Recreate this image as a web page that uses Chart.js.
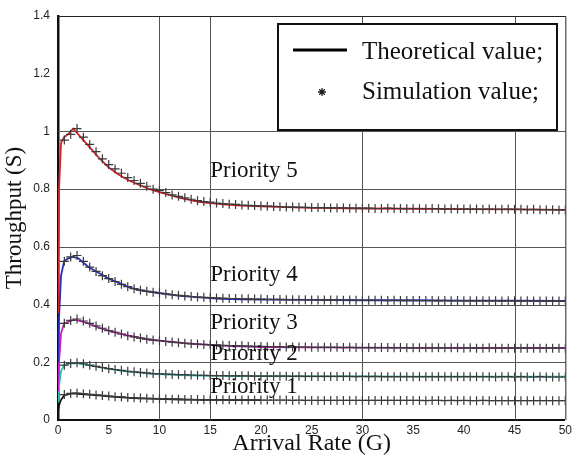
<!DOCTYPE html>
<html>
<head>
<meta charset="utf-8">
<script src="https://cdn.jsdelivr.net/npm/chart.js@4"></script>
<style>
html,body{margin:0;padding:0;background:#fff;}
#wrap{width:575px;height:467px;position:relative;}
</style>
</head>
<body>
<div id="wrap"><canvas id="c" width="575" height="467"></canvas></div>
<script>
// Theoretical curves (x positions and values)
const thX = [0,0.1,0.3,0.6,1,1.5,2,3,4,5,6,7,8,9,10,12,14,16,18,20,25,30,35,40,45,50];
const thP5 = [0.37,0.80,0.96,0.98,0.99,1.01,0.99,0.95,0.91,0.875,0.85,0.83,0.815,0.80,0.79,0.77,0.755,0.748,0.743,0.74,0.735,0.733,0.732,0.731,0.73,0.728];
const thP4 = [0.20,0.35,0.50,0.55,0.56,0.565,0.56,0.53,0.51,0.49,0.475,0.46,0.45,0.445,0.44,0.43,0.425,0.42,0.418,0.417,0.416,0.415,0.415,0.414,0.414,0.413];
const thP3 = [0.10,0.20,0.30,0.335,0.34,0.347,0.345,0.335,0.32,0.31,0.30,0.292,0.285,0.279,0.275,0.268,0.262,0.258,0.255,0.253,0.252,0.251,0.25,0.25,0.25,0.25];
const thP2 = [0.06,0.12,0.17,0.19,0.195,0.197,0.196,0.19,0.183,0.177,0.172,0.168,0.164,0.161,0.159,0.156,0.154,0.153,0.152,0.152,0.151,0.151,0.15,0.15,0.15,0.15];
const thP1 = [0.03,0.05,0.07,0.085,0.09,0.092,0.091,0.088,0.085,0.082,0.079,0.077,0.075,0.074,0.073,0.071,0.07,0.07,0.069,0.069];

// Simulation points
const simX = [0.625,1.25,1.875,2.5,3.125,3.75,4.375,5,5.625,6.25,6.875,7.5,8.125,8.75,9.375,10,
10.625,11.25,11.875,12.5,13.125,13.75,14.375,15,15.625,16.25,16.875,17.5,18.125,18.75,19.375,20,
20.625,21.25,21.875,22.5,23.125,23.75,24.375,25,25.625,26.25,26.875,27.5,28.125,28.75,29.375,30,
30.625,31.25,31.875,32.5,33.125,33.75,34.375,35,35.625,36.25,36.875,37.5,38.125,38.75,39.375,40,
40.625,41.25,41.875,42.5,43.125,43.75,44.375,45,45.625,46.25,46.875,47.5,48.125,48.75,49.375,50];
const simP5 = [0.97,0.99,1.01,0.98,0.955,0.93,0.905,0.885,0.87,0.855,0.84,0.83,0.82,0.81,0.80,0.795,
0.788,0.78,0.775,0.77,0.765,0.76,0.757,0.755,0.752,0.75,0.748,0.747,0.745,0.744,0.743,0.742,
0.741,0.740,0.739,0.738,0.738,0.737,0.737,0.736,0.736,0.736,0.735,0.735,0.735,0.734,0.734,0.734,
0.734,0.733,0.733,0.734,0.733,0.733,0.732,0.733,0.732,0.732,0.733,0.732,0.731,0.732,0.731,0.731,
0.731,0.731,0.730,0.731,0.730,0.730,0.731,0.730,0.730,0.729,0.730,0.729,0.729,0.729,0.728,0.728];
const simP4 = [0.55,0.565,0.57,0.55,0.53,0.515,0.50,0.49,0.48,0.47,0.462,0.455,0.45,0.446,0.443,0.44,
0.437,0.434,0.432,0.43,0.428,0.426,0.425,0.424,0.423,0.422,0.421,0.421,0.42,0.42,0.419,0.419,
0.418,0.418,0.418,0.417,0.417,0.417,0.417,0.416,0.416,0.416,0.416,0.416,0.415,0.416,0.415,0.415,
0.415,0.415,0.415,0.414,0.415,0.414,0.414,0.414,0.414,0.414,0.414,0.413,0.414,0.413,0.414,0.413,
0.413,0.413,0.413,0.413,0.413,0.412,0.413,0.413,0.412,0.413,0.412,0.412,0.412,0.412,0.412,0.412];
const simP3 = [0.335,0.345,0.35,0.343,0.335,0.326,0.318,0.31,0.304,0.298,0.292,0.288,0.284,0.28,0.277,0.275,
0.272,0.27,0.268,0.266,0.264,0.263,0.262,0.261,0.26,0.259,0.258,0.257,0.257,0.256,0.255,0.255,
0.254,0.254,0.254,0.253,0.253,0.253,0.253,0.252,0.252,0.252,0.252,0.252,0.251,0.252,0.251,0.251,
0.251,0.251,0.251,0.251,0.25,0.251,0.25,0.25,0.25,0.25,0.25,0.25,0.25,0.25,0.25,0.249,
0.25,0.249,0.249,0.25,0.249,0.249,0.249,0.249,0.249,0.249,0.249,0.249,0.249,0.249,0.249,0.249];
const simP2 = [0.19,0.196,0.198,0.195,0.19,0.186,0.182,0.178,0.175,0.172,0.169,0.167,0.165,0.163,0.161,0.16,
0.159,0.158,0.157,0.157,0.156,0.155,0.155,0.154,0.154,0.154,0.153,0.153,0.153,0.153,0.152,0.152,
0.152,0.152,0.152,0.152,0.151,0.152,0.151,0.151,0.151,0.151,0.151,0.151,0.151,0.151,0.15,0.151,
0.15,0.151,0.15,0.15,0.15,0.15,0.15,0.15,0.15,0.15,0.15,0.15,0.15,0.15,0.15,0.15,
0.15,0.15,0.15,0.15,0.149,0.15,0.15,0.149,0.15,0.149,0.149,0.15,0.149,0.149,0.149,0.149];
const simP1 = [0.088,0.092,0.093,0.091,0.089,0.087,0.085,0.083,0.081,0.08,0.078,0.077,0.076,0.075,0.074,0.073,
0.073,0.072,0.072,0.071,0.071,0.071,0.07,0.07,0.07,0.07,0.07,0.069,0.069,0.069,0.069,0.069,
0.069,0.069,0.069,0.069,0.068,0.069,0.068,0.068,0.068,0.068,0.068,0.068,0.068,0.068,0.068,0.068,
0.068,0.068,0.068,0.068,0.068,0.068,0.068,0.068,0.068,0.067,0.068,0.068,0.067,0.068,0.067,0.068,
0.067,0.067,0.068,0.067,0.067,0.067,0.067,0.067,0.067,0.067,0.067,0.067,0.067,0.067,0.067,0.067];

const xGridAt = [10,15,30,45];
const yGridAt = [0.2,0.4,0.6,0.8,1];
const priorityLabels = ['Priority 5','Priority 4','Priority 3','Priority 2','Priority 1'];
const priorityLabelX = [15,15,15,15,15];
const priorityLabelY = [0.841,0.483,0.317,0.207,0.093];
const legendLabels = ['Theoretical value;','Simulation value;'];

const lineColors = ['#d8232a','#2b2fb8','#c023c0','#2cbcb0','#111111'];
const thSeries = [thP5,thP4,thP3,thP2,thP1];
const simSeries = [simP5,simP4,simP3,simP2,simP1];

function pts(xs, ys){ return ys.map((y,i)=>({x:xs[i], y:y})); }

const datasets = [];
simSeries.forEach((s)=>{
  datasets.push({type:'scatter', data: pts(simX,s), showLine:false, pointStyle:'cross',
    pointRadius:4.5, pointBorderWidth:1.2, borderColor:'#3a3a3a', backgroundColor:'#3a3a3a', order:1});
});
thSeries.forEach((s,i)=>{
  datasets.push({type:'line', data: pts(thX,s), borderColor: lineColors[i], borderWidth:1.8,
    pointRadius:0, tension:0, fill:false, order:2});
});

const SERIF = '"Liberation Serif","Times New Roman",serif';
const SANS = '"Liberation Sans",Arial,sans-serif';

const gridPlugin = {
  id:'customGridLines',
  beforeDatasetsDraw(chart){
    const ctx = chart.ctx, a = chart.chartArea;
    const xs = chart.scales.x, ys = chart.scales.y;
    ctx.save();
    ctx.strokeStyle = '#555'; ctx.lineWidth = 1;
    for (const v of xGridAt) {
      const px = Math.round(xs.getPixelForValue(v))+0.5;
      ctx.beginPath(); ctx.moveTo(px, a.top); ctx.lineTo(px, a.bottom); ctx.stroke();
    }
    for (const v of yGridAt) {
      const py = Math.round(ys.getPixelForValue(v))+0.5;
      ctx.beginPath(); ctx.moveTo(a.left, py); ctx.lineTo(a.right, py); ctx.stroke();
    }
    ctx.restore();
  }
};

const decor = {
  id:'decor',
  afterDraw(chart){
    const ctx = chart.ctx, a = chart.chartArea;
    const xs = chart.scales.x, ys = chart.scales.y;
    ctx.save();
    ctx.strokeStyle = '#222'; ctx.lineWidth = 1;
    ctx.beginPath();
    ctx.moveTo(a.left, a.top+0.5); ctx.lineTo(a.right+0.5, a.top+0.5); ctx.lineTo(a.right+0.5, a.bottom);
    ctx.stroke();
    ctx.fillStyle = '#111';
    ctx.font = '23px ' + SERIF;
    ctx.textBaseline = 'alphabetic';
    ctx.textAlign = 'left';
    priorityLabels.forEach((lab,i)=>{
      ctx.fillText(lab, xs.getPixelForValue(priorityLabelX[i]), ys.getPixelForValue(priorityLabelY[i]));
    });
    const bx = 278, by = 24, bw = 279, bh = 106;
    ctx.fillStyle = '#fff';
    ctx.fillRect(bx, by, bw, bh);
    ctx.strokeStyle = '#111'; ctx.lineWidth = 2;
    ctx.strokeRect(bx, by, bw, bh);
    ctx.lineWidth = 3; ctx.strokeStyle = '#000';
    ctx.beginPath(); ctx.moveTo(293, 50); ctx.lineTo(347, 50); ctx.stroke();
    ctx.lineWidth = 1.3; ctx.strokeStyle = '#222';
    const cx = 322, cy = 92, r = 4;
    ctx.beginPath();
    ctx.moveTo(cx-r, cy); ctx.lineTo(cx+r, cy);
    ctx.moveTo(cx, cy-r); ctx.lineTo(cx, cy+r);
    ctx.moveTo(cx-r*0.7, cy-r*0.7); ctx.lineTo(cx+r*0.7, cy+r*0.7);
    ctx.moveTo(cx-r*0.7, cy+r*0.7); ctx.lineTo(cx+r*0.7, cy-r*0.7);
    ctx.stroke();
    ctx.fillStyle = '#111';
    ctx.font = '25px ' + SERIF;
    ctx.fillText(legendLabels[0], 362, 59);
    ctx.fillText(legendLabels[1], 362, 99);
    ctx.restore();
  }
};

const noGrid = { display:false, drawTicks:false, drawOnChartArea:false, color:'rgba(0,0,0,0)', lineWidth:0 };

new Chart(document.getElementById('c'), {
  data: { datasets },
  options: {
    responsive:false, animation:false, devicePixelRatio:1,
    layout:{ padding:{ top:16, right:7, left:0, bottom:0 } },
    plugins:{ legend:{display:false}, tooltip:{enabled:false} },
    scales:{
      x:{ type:'linear', min:0, max:50,
        ticks:{ stepSize:5, color:'#222', font:{family:SANS, size:12}, padding:3, maxRotation:0 },
        grid: Object.assign({}, noGrid),
        border:{ display:true, color:'#111', width:2 },
        title:{ display:true, text:'Arrival Rate (G)', color:'#111', font:{family:SERIF, size:24}, padding:{top:0,bottom:9} },
        afterFit(s){ s.height = 47; }
      },
      y:{ type:'linear', min:0, max:1.4,
        ticks:{ stepSize:0.2, color:'#222', font:{family:SANS, size:12}, padding:8,
          callback:(v)=> String(parseFloat(v.toFixed(1))) },
        grid: Object.assign({}, noGrid),
        border:{ display:true, color:'#111', width:2.5 },
        title:{ display:true, text:'Throughput (S)', color:'#111', font:{family:SERIF, size:23}, padding:{top:1,bottom:0} },
        afterFit(s){ s.width = 58; }
      }
    }
  },
  plugins:[gridPlugin, decor]
});
</script>
</body>
</html>
